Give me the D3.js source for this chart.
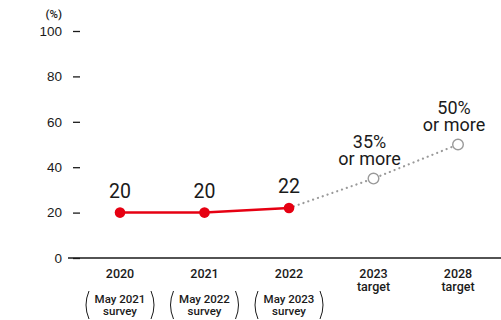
<!DOCTYPE html>
<html>
<head>
<meta charset="utf-8">
<script src="https://cdn.jsdelivr.net/npm/d3@7"></script>
<style>
  html, body { margin: 0; padding: 0; background: #fff; }
  svg { display: block; font-family: Roboto, "Noto Sans", sans-serif; }
</style>
</head>
<body>
<svg id="chart" width="501" height="320"></svg>
<script>
// Categories along the x axis
const years = ["2020", "2021", "2022", "2023", "2028"];
const subLabels = ["May 2021", "May 2022", "May 2023", "target", "target"];
const subIsSurvey = [true, true, true, false, false];

// Actual results (percent) and targets (percent)
const actualYears = ["2020", "2021", "2022"];
const actualValues = [20, 20, 22];
const targetYears = ["2022", "2023", "2028"];
const targetValues = [22, 35, 50];
const targetLabels = ["", "35%", "50%"];

// Y axis ticks
const yTicks = [0, 20, 40, 60, 80, 100];

const svg = d3.select("#chart");
const red = "#e60012";
const grey = "#9a9a9a";
const ink = "#1a1a1a";

const x = d3.scalePoint().domain(years).range([120, 458]);
const y = d3.scaleLinear().domain([0, 100]).range([258, 31]);

// Y axis: short tick marks with labels, no domain line
const yAxis = d3.axisLeft(y).tickValues(yTicks).tickSize(7).tickPadding(11);
const gy = svg.append("g").attr("transform", "translate(80,0)").call(yAxis);
gy.select(".domain").remove();
gy.selectAll(".tick line").attr("stroke", ink).attr("stroke-width", 1.3);
gy.selectAll(".tick text")
  .attr("fill", ink)
  .style("font-size", "13.5px")
  .style("font-weight", 500);

// Unit label
svg.append("text")
  .attr("x", 62).attr("y", 18)
  .attr("text-anchor", "end")
  .attr("fill", ink)
  .style("font-size", "11.5px")
  .style("font-weight", 500)
  .text("(%)");

// Baseline
svg.append("line")
  .attr("x1", 68).attr("x2", 501)
  .attr("y1", y(0)).attr("y2", y(0))
  .attr("stroke", ink).attr("stroke-width", 1.3);

// X category labels
const xl = svg.append("g");
years.forEach((yr, i) => {
  const cx = x(yr);
  xl.append("text")
    .attr("x", cx).attr("y", 278)
    .attr("text-anchor", "middle")
    .attr("fill", ink)
    .style("font-size", "12.5px").style("font-weight", 500)
    .text(yr);
  if (subIsSurvey[i]) {
    xl.append("text")
      .attr("x", cx).attr("y", 303)
      .attr("text-anchor", "middle")
      .attr("fill", ink)
      .style("font-size", "11.5px").style("font-weight", 500)
      .text(subLabels[i]);
    xl.append("text")
      .attr("x", cx).attr("y", 315)
      .attr("text-anchor", "middle")
      .attr("fill", ink)
      .style("font-size", "11.5px").style("font-weight", 500)
      .text("survey");
    // Brackets around the survey note
    [-1, 1].forEach(s => {
      const bx = cx + s * 31;
      xl.append("path")
        .attr("d", `M${bx},291 Q${bx + s * 6},305 ${bx},319`)
        .attr("fill", "none")
        .attr("stroke", ink)
        .attr("stroke-width", 1);
    });
  } else {
    xl.append("text")
      .attr("x", cx).attr("y", 291)
      .attr("text-anchor", "middle")
      .attr("fill", ink)
      .style("font-size", "12.5px").style("font-weight", 500)
      .text(subLabels[i]);
  }
});

// Target trend (dotted)
const line = d3.line().x(d => x(d[0])).y(d => y(d[1]));
const targetData = targetYears.map((yr, i) => [yr, targetValues[i]]);
svg.append("path")
  .datum(targetData)
  .attr("d", line)
  .attr("fill", "none")
  .attr("stroke", grey)
  .attr("stroke-width", 2.2)
  .attr("stroke-linecap", "round")
  .attr("stroke-dasharray", "0.1,5");

// Actual trend (solid red)
const actualData = actualYears.map((yr, i) => [yr, actualValues[i]]);
svg.append("path")
  .datum(actualData)
  .attr("d", line)
  .attr("fill", "none")
  .attr("stroke", red)
  .attr("stroke-width", 2.5);

// Target markers (open circles), skipping the shared 2022 point
svg.selectAll("circle.target")
  .data(targetData.slice(1))
  .join("circle")
  .attr("class", "target")
  .attr("cx", d => x(d[0])).attr("cy", d => y(d[1]))
  .attr("r", 5.3)
  .attr("fill", "#fff")
  .attr("stroke", grey)
  .attr("stroke-width", 1.4);

// Actual markers
svg.selectAll("circle.actual")
  .data(actualData)
  .join("circle")
  .attr("class", "actual")
  .attr("cx", d => x(d[0])).attr("cy", d => y(d[1]))
  .attr("r", 5.3)
  .attr("fill", red);

// Actual value labels
svg.selectAll("text.actual")
  .data(actualData)
  .join("text")
  .attr("class", "actual")
  .attr("x", d => x(d[0])).attr("y", d => y(d[1]) - 15)
  .attr("text-anchor", "middle")
  .attr("fill", ink)
  .style("font-size", "19.5px").style("font-weight", 400)
  .text(d => d[1]);

// Target value labels
targetData.forEach((d, i) => {
  if (!targetLabels[i]) return;
  const g = svg.append("text")
    .attr("text-anchor", "middle")
    .attr("fill", ink)
    .style("font-size", "18px").style("font-weight", 400);
  g.append("tspan").attr("x", x(d[0]) - 4).attr("y", y(d[1]) - 31).text(targetLabels[i]);
  g.append("tspan").attr("x", x(d[0]) - 4).attr("y", y(d[1]) - 14).text("or more");
});
</script>
</body>
</html>
